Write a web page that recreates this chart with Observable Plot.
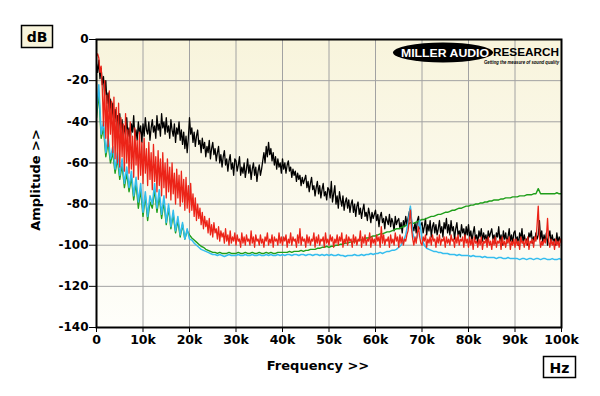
<!DOCTYPE html>
<html>
<head>
<meta charset="utf-8">
<script src="https://cdn.jsdelivr.net/npm/d3@7"></script>
<script src="https://cdn.jsdelivr.net/npm/@observablehq/plot@0.6"></script>
<style>
  html, body { margin: 0; padding: 0; background: #ffffff; }
  #chart { width: 600px; height: 396px; }
</style>
</head>
<body>
<div id="chart"></div>
<script>
// Frequency grids in kHz
const freqFine = d3.range(0, 100.1, 0.25);   // black & red (0.25 kHz bins)
const freqCoarse = d3.range(0, 100.25, 0.5); // green & cyan (0.5 kHz bins)
const xTicks = [0, 10, 20, 30, 40, 50, 60, 70, 80, 90, 100];
const yTicks = [-140, -120, -100, -80, -60, -40, -20, 0];

const blackDb = [
  -12, -16, -10, -19, -14, -22, -18, -27, -20, -31, -26, -35, -29, -38, -31, -42, -34, -40, -37, -45,
  -36, -44, -39, -48, -42, -46, -38, -47, -43, -50, -41, -45, -37, -48, -44, -49, -40, -46, -42, -50,
  -41, -47, -38, -44, -46, -40, -49, -43, -39, -45, -42, -48, -37, -44, -41, -47, -36, -43, -40, -46,
  -38, -45, -42, -48, -39, -44, -47, -41, -50, -43, -46, -40, -49, -44, -51, -45, -53, -47, -55, -48,
  -38, -46, -43, -50, -45, -52, -47, -44, -51, -49, -55, -48, -53, -50, -57, -52, -55, -49, -58, -53,
  -50, -56, -53, -59, -55, -52, -60, -56, -62, -57, -54, -61, -58, -64, -59, -56, -63, -60, -66, -58,
  -59, -64, -61, -57, -66, -62, -65, -60, -67, -63, -58, -65, -61, -68, -63, -60, -66, -62, -69, -64,
  -61, -66, -63, -59, -55, -60, -52, -57, -50, -56, -53, -59, -55, -61, -57, -63, -58, -62, -60, -65,
  -58, -63, -60, -65, -61, -59, -64, -62, -67, -63, -66, -64, -69, -65, -68, -66, -71, -67, -70, -68,
  -66, -72, -69, -74, -70, -67, -73, -71, -76, -72, -69, -75, -71, -77, -73, -70, -76, -74, -78, -72,
  -73, -77, -69, -79, -75, -71, -80, -76, -82, -74, -78, -81, -76, -83, -79, -77, -82, -78, -84, -80,
  -78, -84, -80, -86, -81, -79, -85, -82, -87, -83, -80, -86, -84, -88, -82, -85, -89, -84, -87, -85,
  -83, -88, -85, -91, -86, -84, -89, -87, -92, -86, -88, -90, -85, -91, -87, -89, -93, -86, -90, -88,
  -87, -92, -89, -94, -88, -91, -86, -90, -87, -84, -82, -88, -91, -93, -89, -94, -88, -86, -92, -90,
  -89, -94, -91, -87, -95, -90, -93, -88, -96, -91, -89, -94, -90, -95, -92, -88, -94, -91, -96, -89,
  -92, -87, -94, -90, -95, -88, -93, -91, -97, -92, -89, -95, -93, -96, -90, -94, -92, -97, -91, -95,
  -90, -96, -93, -98, -94, -91, -97, -95, -99, -93, -96, -92, -98, -94, -97, -95, -99, -93, -96, -94,
  -92, -97, -95, -99, -94, -96, -91, -98, -95, -100, -93, -97, -94, -99, -96, -92, -98, -95, -99, -94,
  -93, -98, -96, -100, -94, -97, -92, -99, -95, -98, -97, -100, -94, -96, -93, -99, -96, -98, -94, -97,
  -95, -88, -97, -93, -99, -95, -98, -94, -100, -96, -93, -99, -95, -98, -97, -100, -94, -99, -96, -98,
  -97
];

const redDb = [
  -8, -7, -9, -16, -13, -24, -42, -20, -48, -27, -52, -25, -46, -30, -55, -28, -58, -33, -60, -31,
  -62, -38, -57, -41, -64, -36, -60, -44, -65, -40, -63, -47, -67, -43, -61, -49, -68, -45, -66, -50,
  -70, -48, -65, -53, -71, -50, -68, -55, -73, -51, -69, -57, -74, -54, -71, -58, -76, -55, -72, -60,
  -77, -58, -74, -62, -78, -60, -75, -65, -80, -63, -77, -66, -81, -64, -79, -68, -83, -67, -82, -71,
  -84, -70, -83, -75, -86, -77, -88, -80, -87, -82, -90, -84, -92, -86, -91, -88, -94, -87, -95, -90,
  -96, -89, -94, -92, -97, -91, -98, -93, -96, -94, -99, -92, -98, -95, -100, -93, -99, -96, -98, -94,
  -100, -95, -98, -97, -101, -94, -99, -96, -100, -95, -98, -97, -100, -93, -99, -96, -101, -95, -98, -97,
  -100, -95, -99, -97, -101, -96, -98, -94, -100, -97, -99, -95, -101, -96, -98, -97, -100, -94, -99, -96,
  -100, -96, -98, -95, -101, -97, -99, -94, -100, -96, -98, -97, -101, -95, -99, -92, -100, -96, -98, -97,
  -101, -95, -99, -96, -100, -97, -98, -94, -101, -96, -99, -95, -100, -97, -98, -96, -101, -94, -99, -97,
  -100, -95, -98, -96, -101, -97, -99, -95, -100, -96, -98, -94, -101, -97, -99, -95, -100, -96, -98, -97,
  -101, -95, -99, -96, -100, -97, -98, -93, -101, -96, -99, -95, -100, -97, -98, -94, -101, -96, -99, -97,
  -100, -95, -98, -96, -101, -91, -99, -95, -100, -97, -98, -96, -101, -95, -99, -97, -100, -94, -98, -96,
  -101, -95, -99, -96, -100, -97, -98, -95, -93, -88, -83, -92, -97, -100, -96, -99, -94, -91, -96, -99,
  -100, -96, -98, -95, -101, -97, -99, -96, -100, -95, -98, -97, -101, -96, -99, -95, -100, -97, -98, -96,
  -101, -96, -99, -97, -100, -95, -98, -97, -101, -96, -99, -95, -100, -97, -98, -96, -101, -95, -99, -97,
  -101, -96, -100, -97, -102, -96, -99, -98, -101, -97, -100, -96, -102, -98, -99, -97, -101, -96, -100, -98,
  -102, -97, -100, -96, -101, -98, -99, -97, -102, -96, -100, -98, -101, -97, -99, -96, -102, -98, -100, -97,
  -101, -97, -100, -98, -102, -96, -99, -98, -101, -97, -100, -96, -102, -98, -99, -97, -101, -96, -98, -90,
  -81, -96, -101, -98, -100, -97, -99, -96, -87, -98, -101, -97, -100, -98, -102, -97, -100, -98, -101, -97,
  -99
];

const cyanDb = [
  -35, -22, -46, -40, -55, -47, -58, -52, -63, -55,
  -66, -58, -70, -62, -72, -64, -76, -67, -79, -70,
  -84, -74, -86, -76, -80, -70, -82, -73, -85, -76,
  -89, -80, -91, -83, -93, -86, -95, -89, -97, -92,
  -97, -97.5, -99, -100, -101, -102, -102.5, -103, -103.5, -104,
  -104.5, -104.5, -105, -104.5, -105, -105.5, -105, -104.5, -105, -105,
  -105, -104.5, -105, -105, -104.5, -105, -105, -104.5, -105, -105,
  -104.5, -105, -105, -104.5, -105, -104.5, -105, -105, -104.5, -105,
  -104.5, -105, -104.5, -104.5, -105, -104.5, -104.5, -105, -104.5, -104.5,
  -105, -104.5, -104.5, -105, -104.5, -104.5, -105, -104.5, -105, -104.5,
  -105, -104.5, -105, -105, -104.5, -105, -105, -105.5, -105, -105,
  -105, -104.5, -105, -105, -104.5, -105, -104.5, -104.5, -104, -104.5,
  -104, -104, -103.5, -104, -103.5, -103, -103, -102.5, -102.5, -102,
  -101, -100, -98, -95, -89, -81, -94, -98, -96, -88,
  -97, -100, -101.5, -102, -102.5, -103, -103, -103.5, -103.5, -104,
  -104, -104, -104.5, -104.5, -104.5, -105, -104.5, -105, -105, -105,
  -105, -105.5, -105, -105.5, -105.5, -105.5, -106, -105.5, -106, -106,
  -106, -106, -106.5, -106, -106, -106.5, -106.5, -106, -106.5, -106.5,
  -106.5, -106.5, -107, -106.5, -106.5, -107, -106.5, -106.5, -107, -106.5,
  -106.5, -107, -106.5, -106.5, -107, -107, -106.5, -107, -107, -106.5,
  -107
];

const greenDb = [
  -38, -26, -48, -43, -57, -50, -60, -55, -65, -58,
  -68, -61, -72, -65, -74, -67, -78, -70, -82, -73,
  -86, -76, -88, -79, -82, -73, -84, -76, -87, -79,
  -90, -82, -92, -85, -94, -88, -96, -90, -97, -93,
  -95, -96.5, -97.5, -98.5, -99.5, -100.5, -101, -102, -102.5, -103,
  -103.5, -103.5, -104, -103.5, -104, -104, -104, -103.5, -104, -104,
  -104, -103.5, -104, -104, -103.5, -104, -104, -103.5, -104, -104,
  -103.5, -104, -104, -103.5, -104, -103.5, -104, -104, -103.5, -103.5,
  -103.5, -103.5, -103.5, -103, -103.5, -103, -103, -103, -102.5, -103,
  -102.5, -102.5, -102, -102, -102, -101.5, -101.5, -101, -101, -100.5,
  -101, -100.5, -100.5, -100, -100, -99.5, -99.5, -99, -99, -98.5,
  -98.5, -98, -98, -97.5, -97.5, -97, -96.5, -96.5, -96, -95.5,
  -95.5, -95, -94.5, -94.5, -94, -93.5, -93.5, -93, -92.5, -92,
  -92, -91.5, -91, -90.5, -90, -89, -89.5, -89, -88.5, -88,
  -87.5, -87.5, -87, -86.5, -86, -86, -85.5, -85, -85, -84.5,
  -84, -84, -83.5, -83, -83, -82.5, -82, -82, -81.5, -81,
  -81, -80.5, -80.5, -80, -80, -79.5, -79.5, -79, -79, -78.5,
  -78.5, -78, -78, -78, -77.5, -77.5, -77, -77, -77, -76.5,
  -76.5, -76.5, -76, -76, -76, -75.5, -75.5, -75.5, -75, -75,
  -72.5, -75, -75, -75, -75, -75, -75, -75, -74.5, -75,
  -75
];

const seriesOrder = [
  {values: blackDb, freq: freqFine, color: "#000000", width: 1.3},
  {values: greenDb, freq: freqCoarse, color: "#1f9e1a", width: 1.4},
  {values: cyanDb, freq: freqCoarse, color: "#35bdee", width: 1.5},
  {values: redDb, freq: freqFine, color: "#ec2418", width: 1.3}
];

const FONT = "'DejaVu Sans', Verdana, sans-serif";

const lineMarks = seriesOrder.map(s =>
  Plot.line(s.values, {
    x: (d, i) => s.freq[i],
    y: d => d,
    stroke: s.color,
    strokeWidth: s.width,
    clip: true
  })
);

const chart = Plot.plot({
  width: 600,
  height: 396,
  marginTop: 39,
  marginRight: 39,
  marginBottom: 69,
  marginLeft: 96,
  x: {domain: [0, 100], label: null},
  y: {domain: [-140, 0], label: null},
  style: {fontFamily: FONT, fontWeight: "bold", background: "#ffffff", color: "#000"},
  marks: [
    Plot.frame({fill: "url(#plotbg)", stroke: null}),
    Plot.gridX(xTicks, {stroke: "#a2a2a2", strokeOpacity: 1, strokeWidth: 1}),
    Plot.gridY(yTicks, {stroke: "#a2a2a2", strokeOpacity: 1, strokeWidth: 1}),
    ...lineMarks,
    Plot.frame({stroke: "#000", strokeWidth: 2}),
    Plot.axisX(xTicks, {
      tickFormat: d => d === 0 ? "0" : d + "k",
      tickSize: 5, tickPadding: 3, label: null,
      fontSize: 12.5, fontWeight: "bold", stroke: "#000"
    }),
    Plot.axisY(yTicks, {
      tickFormat: d => String(d),
      tickSize: 7, tickPadding: 1, label: null,
      fontSize: 12, fontWeight: "bold", stroke: "#000"
    })
  ]
});

document.getElementById("chart").appendChild(chart);

// Decorations
const svg = d3.select(chart);
const defs = svg.insert("defs", ":first-child");
const grad = defs.append("linearGradient")
  .attr("id", "plotbg").attr("x1", 0).attr("y1", 0).attr("x2", 0).attr("y2", 1);
grad.append("stop").attr("offset", "0%").attr("stop-color", "#f8f4dc");
grad.append("stop").attr("offset", "100%").attr("stop-color", "#fefefa");

const deco = svg.append("g").attr("font-family", FONT).attr("font-weight", "bold");

// dB box
deco.append("rect").attr("x", 21.5).attr("y", 25.5).attr("width", 31).attr("height", 22)
  .attr("fill", "#f8f4dc").attr("stroke", "#000").attr("stroke-width", 1.5);
deco.append("text").attr("x", 37).attr("y", 42).attr("text-anchor", "middle")
  .attr("font-size", 14).attr("fill", "#000").text("dB");

// Hz box
deco.append("rect").attr("x", 543.5).attr("y", 356.5).attr("width", 32).attr("height", 21)
  .attr("fill", "#ffffff").attr("stroke", "#000").attr("stroke-width", 1.5);
deco.append("text").attr("x", 559.5).attr("y", 372.5).attr("text-anchor", "middle")
  .attr("font-size", 14).attr("fill", "#000").text("Hz");

// Axis titles
deco.append("text").attr("x", 318).attr("y", 370).attr("text-anchor", "middle")
  .attr("font-size", 13).attr("fill", "#000").text("Frequency >>");
deco.append("text").attr("transform", "translate(40,180) rotate(-90)")
  .attr("text-anchor", "middle").attr("font-size", 13).attr("fill", "#000").text("Amplitude >>");

// Logo
const logo = svg.append("g").attr("font-family", "'Liberation Sans', Arial, sans-serif")
  .attr("font-weight", "bold").attr("text-anchor", "start");
logo.append("ellipse").attr("cx", 443).attr("cy", 52.5).attr("rx", 50).attr("ry", 10).attr("fill", "#000");
logo.append("text").attr("x", 401).attr("y", 56.5).attr("font-size", 11.5).attr("text-anchor", "start")
  .attr("textLength", 88).attr("lengthAdjust", "spacingAndGlyphs")
  .attr("fill", "#ffffff").text("MILLER AUDIO");
logo.append("text").attr("x", 493).attr("y", 56).attr("font-size", 11).attr("text-anchor", "start")
  .attr("textLength", 66).attr("lengthAdjust", "spacingAndGlyphs")
  .attr("fill", "#000").text("RESEARCH");
logo.append("text").attr("x", 484).attr("y", 63.5).attr("font-size", 5).attr("text-anchor", "start")
  .attr("font-style", "italic")
  .attr("textLength", 75).attr("lengthAdjust", "spacingAndGlyphs")
  .attr("fill", "#000").text("Getting the measure of sound quality");
</script>
</body>
</html>
